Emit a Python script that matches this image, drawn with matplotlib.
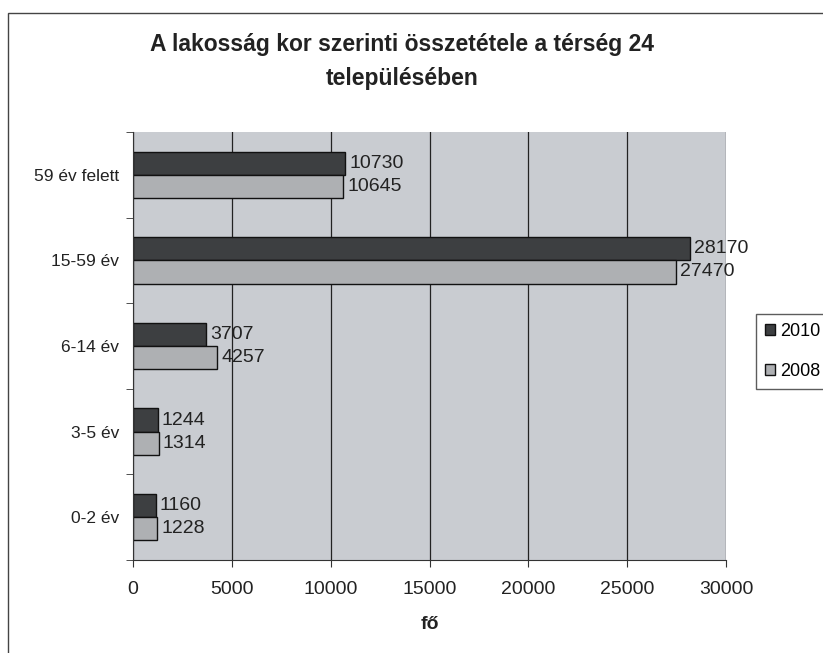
import matplotlib.pyplot as plt
import numpy as np
from matplotlib.patches import Rectangle

plt.rcParams['font.family'] = ['Liberation Sans', 'DejaVu Sans']

categories = ["0-2 év", "3-5 év", "6-14 év", "15-59 év", "59 év felett"]
values_2010 = [1160, 1244, 3707, 28170, 10730]
values_2008 = [1228, 1314, 4257, 27470, 10645]
series_labels = ["2010", "2008"]
x_ticks = [0, 5000, 10000, 15000, 20000, 25000, 30000]

dark = "#3d3f41"
light = "#aeb0b3"
ink = "#222222"

fig = plt.figure(figsize=(8.23, 6.53), dpi=100)
ax = fig.add_axes([133 / 823, 93 / 653, 593 / 823, 428 / 653])
ax.set_facecolor("#c9ccd1")

y = np.arange(len(categories))
h = 0.27
b1 = ax.barh(y + h / 2, values_2010, height=h, color=dark,
             edgecolor="#111111", linewidth=1.0, label=series_labels[0])
b2 = ax.barh(y - h / 2, values_2008, height=h, color=light,
             edgecolor="#111111", linewidth=1.0, label=series_labels[1])

# value labels right of each bar
for bars in (b1, b2):
    for rect in bars:
        w = rect.get_width()
        ax.text(w + 200, rect.get_y() + rect.get_height() / 2, f"{int(w)}",
                va="center", ha="left", fontsize=14, color=ink)

ax.set_xlim(0, 30000)
ax.set_ylim(-0.5, len(categories) - 0.5)
ax.set_xticks(x_ticks)
ax.set_xticklabels([str(t) for t in x_ticks], fontsize=14, color=ink)
ax.set_yticks(y)
ax.set_yticklabels(categories, fontsize=12.5, color=ink)
ax.set_yticks(np.arange(-0.5, len(categories), 1.0), minor=True)
ax.tick_params(axis="y", which="major", length=0, pad=10)
ax.tick_params(axis="y", which="minor", length=5, direction="out", color="#333333")
ax.tick_params(axis="x", length=5, direction="out", pad=10, color="#333333")
ax.xaxis.grid(True, color=ink, linewidth=0.9)
ax.set_axisbelow(True)
for side in ("top", "right"):
    ax.spines[side].set_visible(False)
ax.spines["left"].set_color("#333333")
ax.spines["bottom"].set_color("#333333")

ax.set_xlabel("fő", fontsize=14, fontweight="bold", labelpad=13, color=ink)

fig.text(0.489, 1 - 45 / 653, "A lakosság kor szerinti összetétele a térség 24",
         ha="center", va="center", fontsize=16.5, fontweight="bold", color=ink)
fig.text(0.489, 1 - 78 / 653, "településében",
         ha="center", va="center", fontsize=16.5, fontweight="bold", color=ink)

handles = [Rectangle((0, 0), 1, 1, facecolor=dark, edgecolor="#111111"),
           Rectangle((0, 0), 1, 1, facecolor=light, edgecolor="#111111")]
leg = fig.legend(handles, series_labels, loc="upper left",
                 bbox_to_anchor=(756 / 823, 1 - 314 / 653), fontsize=13,
                 frameon=True, fancybox=False, edgecolor="#333333",
                 handlelength=0.55, handleheight=0.55, handletextpad=0.3,
                 borderpad=0.5, borderaxespad=0, labelspacing=1.25)
leg.get_frame().set_linewidth(1.0)

# outer chart border (runs off the right and bottom edges)
fig.patches.append(Rectangle((8 / 823, -0.1), 1.0, 1.1 - 13 / 653,
                             transform=fig.transFigure, fill=False,
                             edgecolor="#444444", linewidth=1.0))

fig.savefig("out.png", dpi=100)
